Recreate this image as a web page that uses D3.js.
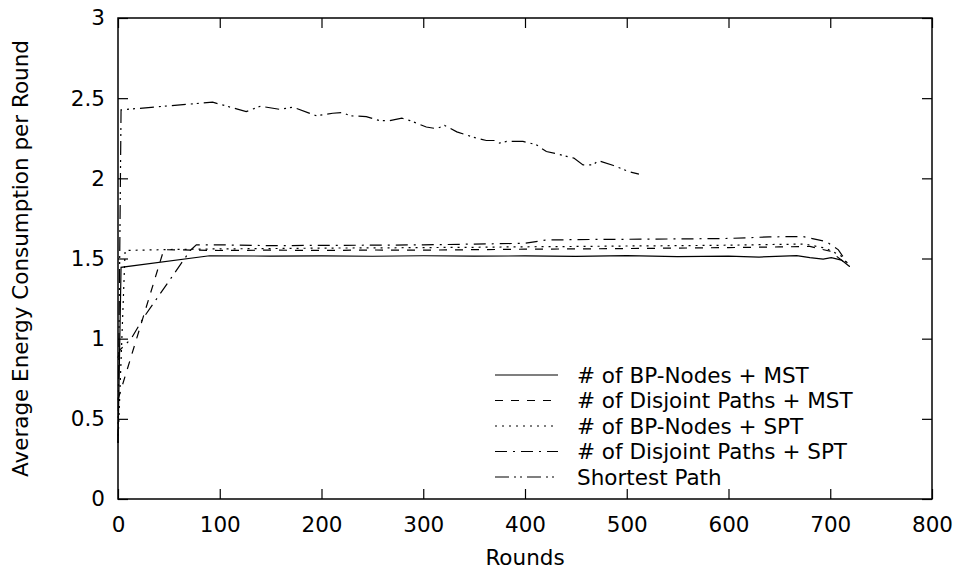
<!DOCTYPE html>
<html>
<head>
<meta charset="utf-8">
<script src="https://cdn.jsdelivr.net/npm/d3@7"></script>
<style>
  body { margin: 0; background: #fff; }
  text { font-family: "DejaVu Sans", sans-serif; font-size: 21.5px; fill: #000; }
</style>
</head>
<body>
<div id="container"></div>
<script>
const WIDTH = 965;
const HEIGHT = 572;
const MARGIN = { top: 18, right: 33, bottom: 73, left: 118 };
const INNER_WIDTH = WIDTH - MARGIN.left - MARGIN.right;
const INNER_HEIGHT = HEIGHT - MARGIN.top - MARGIN.bottom;

// Data
const xTicks = [0, 100, 200, 300, 400, 500, 600, 700, 800];
const yTicks = [0, 0.5, 1, 1.5, 2, 2.5, 3];

const bpMstRounds = [0, 3, 90, 150, 200, 250, 300, 350, 400, 450, 500, 550, 600, 630, 667, 680, 693, 701, 711, 719];
const bpMstValues = [0.35, 1.445, 1.517, 1.515, 1.516, 1.514, 1.517, 1.515, 1.516, 1.513, 1.518, 1.512, 1.515, 1.509, 1.518, 1.506, 1.496, 1.505, 1.49, 1.45];

const djMstRounds = [0, 45, 100, 150, 200, 250, 300, 350, 400, 450, 500, 550, 600, 650, 680, 700, 719];
const djMstValues = [0.62, 1.555, 1.55, 1.552, 1.55, 1.553, 1.552, 1.555, 1.558, 1.56, 1.562, 1.565, 1.568, 1.572, 1.575, 1.545, 1.45];

const bpSptRounds = [0, 7, 50, 100, 150, 200, 250, 300, 350, 400, 450, 500, 550, 600, 650, 675, 695, 710, 719];
const bpSptValues = [0.35, 1.55, 1.556, 1.56, 1.562, 1.565, 1.566, 1.568, 1.57, 1.573, 1.575, 1.578, 1.58, 1.583, 1.588, 1.59, 1.565, 1.52, 1.45];

const djSptRounds = [0, 2, 13, 25, 71, 77, 100, 150, 200, 250, 300, 350, 400, 420, 450, 500, 550, 600, 640, 673, 696, 708, 719];
const djSptValues = [0.88, 0.93, 1.0, 1.13, 1.55, 1.585, 1.585, 1.58, 1.582, 1.583, 1.585, 1.59, 1.595, 1.615, 1.618, 1.62, 1.622, 1.625, 1.635, 1.637, 1.606, 1.554, 1.45];

const spRounds = [0, 3, 93, 126, 140, 159, 172, 195, 211, 221, 228, 244, 257, 267, 279, 287, 303, 313, 321, 333, 349, 362, 370, 375, 382, 398, 411, 421, 431, 448, 457, 467, 472, 487, 503, 512];
const spValues = [0.35, 2.427, 2.475, 2.416, 2.45, 2.43, 2.444, 2.39, 2.406, 2.41, 2.39, 2.385, 2.36, 2.36, 2.375, 2.36, 2.32, 2.31, 2.33, 2.29, 2.257, 2.236, 2.236, 2.22, 2.23, 2.23, 2.21, 2.167, 2.153, 2.126, 2.084, 2.084, 2.11, 2.08, 2.04, 2.026];

const seriesNames = ['# of BP-Nodes + MST', '# of Disjoint Paths + MST', '# of BP-Nodes + SPT', '# of Disjoint Paths + SPT', 'Shortest Path'];
const seriesDash = ['none', '8,8', '2,5', '12,6,2,6', '14,5,2,4,2,5'];

const series = [
    [bpMstRounds, bpMstValues],
    [djMstRounds, djMstValues],
    [bpSptRounds, bpSptValues],
    [djSptRounds, djSptValues],
    [spRounds, spValues]
].map((s, i) => ({
    name: seriesNames[i],
    dash: seriesDash[i],
    points: s[0].map((r, j) => ({ x: r, y: s[1][j] }))
}));

const svg = d3.select('#container').append('svg')
    .attr('width', WIDTH)
    .attr('height', HEIGHT)
    .append('g')
    .attr('transform', 'translate(' + MARGIN.left + ',' + MARGIN.top + ')');

// Scales and axes
const x = d3.scaleLinear().domain([0, 800]).range([0, INNER_WIDTH]);
const y = d3.scaleLinear().domain([0, 3]).range([INNER_HEIGHT, 0]);

const TICK = 10;
const xAxis = d3.axisBottom(x).tickValues(xTicks).tickSize(-TICK).tickPadding(TICK + 8).tickFormat(d3.format('d'));
const yAxis = d3.axisLeft(y).tickValues(yTicks).tickSize(-TICK).tickPadding(TICK + 3).tickFormat(d => d);
const xTop = d3.axisTop(x).tickValues(xTicks).tickSize(-TICK).tickFormat('');
const yRight = d3.axisRight(y).tickValues(yTicks).tickSize(-TICK).tickFormat('');

svg.append('g')
    .attr('class', 'x axis')
    .attr('transform', 'translate(0,' + INNER_HEIGHT + ')')
    .call(xAxis);
svg.append('g')
    .attr('class', 'y axis')
    .call(yAxis);
svg.append('g').call(xTop);
svg.append('g').attr('transform', 'translate(' + INNER_WIDTH + ',0)').call(yRight);

svg.selectAll('.domain').remove();
svg.selectAll('.tick line').attr('stroke', '#000').attr('stroke-width', 1.2);
svg.selectAll('.tick text')
    .style('font-family', '"DejaVu Sans", sans-serif')
    .style('font-size', '21.5px')
    .attr('fill', '#000');

// Frame
svg.append('rect')
    .attr('width', INNER_WIDTH)
    .attr('height', INNER_HEIGHT)
    .attr('fill', 'none')
    .attr('stroke', '#000')
    .attr('stroke-width', 1.5);

// Lines
const line = d3.line().x(d => x(d.x)).y(d => y(d.y));
svg.selectAll('.series')
    .data(series)
    .enter().append('path')
    .attr('class', 'series')
    .attr('d', d => line(d.points))
    .attr('fill', 'none')
    .attr('stroke', '#000')
    .attr('stroke-width', 1.2)
    .attr('stroke-dasharray', d => d.dash);

// Legend
const legend = svg.append('g').attr('transform', 'translate(' + (495 - MARGIN.left) + ',' + (375 - MARGIN.top) + ')');
const rows = legend.selectAll('g').data(series).enter().append('g')
    .attr('transform', (d, i) => 'translate(0,' + (i * 25.5) + ')');
rows.append('line')
    .attr('x1', 0).attr('x2', 63)
    .attr('stroke', '#000').attr('stroke-width', 1.2)
    .attr('stroke-dasharray', d => d.dash);
rows.append('text')
    .attr('x', 82)
    .attr('dy', '0.36em')
    .text(d => d.name);

// Axis titles
svg.append('text')
    .attr('x', INNER_WIDTH / 2)
    .attr('y', INNER_HEIGHT + 66)
    .attr('text-anchor', 'middle')
    .text('Rounds');
svg.append('text')
    .attr('transform', 'translate(' + (20 - MARGIN.left) + ',' + (INNER_HEIGHT / 2) + ') rotate(-90)')
    .attr('text-anchor', 'middle')
    .attr('dy', '0.36em')
    .text('Average Energy Consumption per Round');
</script>
</body>
</html>
